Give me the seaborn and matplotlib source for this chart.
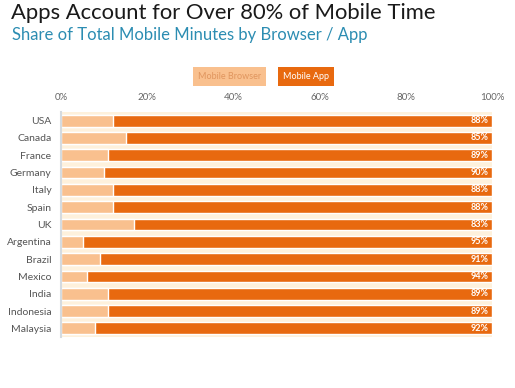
import matplotlib
matplotlib.use("Agg")
import matplotlib.pyplot as plt
import seaborn as sns
import pandas as pd

countries = ["USA", "Canada", "France", "Germany", "Italy", "Spain", "UK",
             "Argentina", "Brazil", "Mexico", "India", "Indonesia", "Malaysia"]
app_share = [88, 85, 89, 90, 88, 88, 83, 95, 91, 94, 89, 89, 92]
browser_share = [100 - v for v in app_share]
tick_values = [0, 20, 40, 60, 80, 100]
tick_labels = ["0%", "20%", "40%", "60%", "80%", "100%"]

df = pd.DataFrame({"country": countries, "app": app_share, "browser": browser_share})
df["total"] = df["app"] + df["browser"]

APP = "#E8690F"
BROWSER = "#F9C08E"
CREAM = "#FEF1DC"

sns.set_theme(style="white")
plt.rcParams["font.family"] = ["Lato", "DejaVu Sans"]

fig = plt.figure(figsize=(5.15, 3.88), dpi=100)
ax = fig.add_axes([0.1184, 0.1314, 0.837, 0.58])
ax.set_facecolor(CREAM)

sns.barplot(data=df, x="total", y="country", color=APP, width=0.68,
            saturation=1, ax=ax, orient="h")
sns.barplot(data=df, x="browser", y="country", color=BROWSER, width=0.68,
            saturation=1, ax=ax, orient="h")

for i, v in enumerate(app_share):
    ax.text(df["total"][i] - 0.8, i, f"{v}%", color="white", fontsize=6.5,
            fontweight="bold", ha="right", va="center")

ax.set_xlim(0, 100)
ax.set_ylim(len(countries) - 0.5, -0.5)
ax.xaxis.tick_top()
ax.set_xticks(tick_values)
ax.set_xticklabels(tick_labels, color="#666666", fontsize=7)
ax.tick_params(axis="x", length=0, pad=7)
ax.tick_params(axis="y", length=0, pad=7, labelsize=7.5, labelcolor="#555555")
ax.set_xlabel("")
ax.set_ylabel("")
for s in ["top", "right", "bottom"]:
    ax.spines[s].set_visible(False)
ax.spines["left"].set_color("#D5DBE0")
ax.spines["left"].set_linewidth(1.5)

fig.text(0.022, 0.992, "Apps Account for Over 80% of Mobile Time",
         fontsize=15.8, color="#1a1a1a", va="top", ha="left")
fig.text(0.024, 0.93, "Share of Total Mobile Minutes by Browser / App",
         fontsize=12, color="#2C8DB2", va="top", ha="left")

# legend boxes
fig.text(0.445, 0.803, "Mobile Browser", fontsize=6.5, color="#E0955E",
         ha="center", va="center",
         bbox=dict(boxstyle="square,pad=0.55", fc=BROWSER, ec="none"))
fig.text(0.595, 0.803, "Mobile App", fontsize=6.5, color="white",
         ha="center", va="center",
         bbox=dict(boxstyle="square,pad=0.55", fc=APP, ec="none"))

fig.savefig("out.png", dpi=100, facecolor="white")
